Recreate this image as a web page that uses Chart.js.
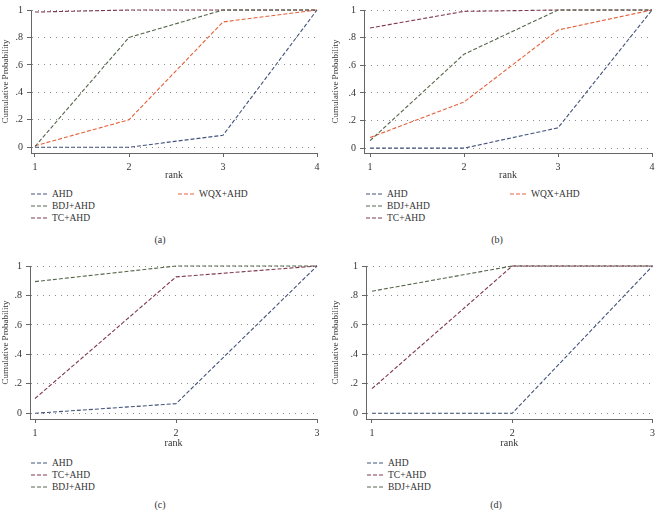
<!DOCTYPE html>
<html><head><meta charset="utf-8">
<script src="https://cdn.jsdelivr.net/npm/chart.js@4/dist/chart.umd.min.js"></script>
<style>
html,body{margin:0;padding:0;background:#fff;}
body{width:659px;height:512px;position:relative;overflow:hidden;font-family:"Liberation Serif","DejaVu Serif",serif;color:#333;}
canvas{position:absolute;}
.leg{position:absolute;font-size:9.5px;line-height:12px;white-space:nowrap;display:flex;align-items:center;}
.leg svg{margin-right:5px;}
.cap{position:absolute;font-size:10px;transform:translate(-50%,-50%);}
</style></head><body>
<canvas id="ca"></canvas><canvas id="cb"></canvas><canvas id="cc"></canvas><canvas id="cd"></canvas>
<div id="legends"></div>
<script>
// ---- data ----
const yTickValues = [0, 0.2, 0.4, 0.6, 0.8, 1];
const yTickLabels = ["0", ".2", ".4", ".6", ".8", "1"];
const ranksAB = [1, 2, 3, 4];
const ranksCD = [1, 2, 3];
const a_AHD = [0, 0, 0.087, 1];
const a_BDJ = [0.005, 0.80, 1, 1];
const a_TC  = [0.985, 1, 1, 1];
const a_WQX = [0.01, 0.20, 0.913, 1];
const b_AHD = [0, 0, 0.147, 1];
const b_BDJ = [0.054, 0.68, 1, 1];
const b_TC  = [0.87, 0.99, 1, 1];
const b_WQX = [0.077, 0.334, 0.855, 1];
const c_AHD = [0, 0.065, 1];
const c_TC  = [0.10, 0.926, 1];
const c_BDJ = [0.894, 1, 1];
const d_AHD = [0, 0, 1];
const d_TC  = [0.167, 1, 1];
const d_BDJ = [0.829, 1, 1];
const nameAHD = "AHD", nameBDJ = "BDJ+AHD", nameTC = "TC+AHD", nameWQX = "WQX+AHD";
const axisTitleX = "rank", axisTitleY = "Cumulative Probability";
const captions = ["(a)", "(b)", "(c)", "(d)"];

// ---- styles ----
const COL = {AHD:"#42527a", BDJ:"#55664a", TC:"#7e3a4c", WQX:"#e4603a"};
const FONT = "'Liberation Serif', 'DejaVu Serif', serif";

function panel(id, box, g, ranks, series) {
  const cv = document.getElementById(id);
  cv.style.left = box.left + "px"; cv.style.top = box.top + "px";
  const N = ranks[ranks.length - 1];
  const kx = (g.xN - g.x1) / (N - 1);
  const xmin = 1 - (g.x1 - g.axisX) / kx;
  const ky = (g.y0 - g.y1);
  const ymin = -(g.axisY - g.y0) / ky;
  const height = g.rankY + 6;
  cv.width = box.width; cv.height = height;
  cv.style.width = box.width + "px"; cv.style.height = height + "px";
  new Chart(cv, {
    type: "line",
    data: {
      datasets: series.map(s => ({
        label: s.name,
        data: ranks.map((r, i) => ({x: r, y: s.values[i]})),
        borderColor: s.color, borderWidth: 1.1, borderDash: [4, 2],
        pointRadius: 0, fill: false, tension: 0, clip: false
      }))
    },
    options: {
      responsive: false, animation: false, devicePixelRatio: 1,
      layout: {padding: {top: g.y1, right: box.width - g.xN, left: 0, bottom: 0}},
      plugins: {legend: {display: false}, tooltip: {enabled: false}},
      scales: {
        x: {
          type: "linear", min: xmin, max: N,
          afterBuildTicks: s => { s.ticks = ranks.map(v => ({value: v})); },
          afterFit: s => { s.height = height - g.axisY; },
          grid: {drawOnChartArea: false, drawTicks: true, tickLength: 4, color: "#666", tickColor: "#666"},
          border: {display: true, color: "#666", width: 1},
          ticks: {padding: 4, color: "#333", font: {family: FONT, size: 10}, maxRotation: 0,
                  callback: v => String(v)},
          title: {display: true, text: axisTitleX, color: "#333", padding: 0, font: {family: FONT, size: 10}}
        },
        y: {
          type: "linear", min: ymin, max: 1,
          afterBuildTicks: s => { s.ticks = yTickValues.map(v => ({value: v})); },
          afterFit: s => { s.width = g.axisX; },
          grid: {drawOnChartArea: true, drawTicks: true, tickLength: 4, color: "#8a8a8a", tickColor: "#666", lineWidth: 1, tickBorderDash: []},
          border: {display: true, color: "#666", width: 1, dash: [1, 5]},
          ticks: {padding: 4, color: "#333", font: {family: FONT, size: 10},
                  callback: v => { const i = yTickValues.indexOf(v); return i >= 0 ? yTickLabels[i] : ""; }},
          title: {display: true, text: axisTitleY, color: "#333", padding: 0, font: {family: FONT, size: 9}}
        }
      }
    }
  });
}

const A = [{name:nameAHD, values:a_AHD, color:COL.AHD},{name:nameBDJ, values:a_BDJ, color:COL.BDJ},{name:nameTC, values:a_TC, color:COL.TC},{name:nameWQX, values:a_WQX, color:COL.WQX}];
const B = [{name:nameAHD, values:b_AHD, color:COL.AHD},{name:nameBDJ, values:b_BDJ, color:COL.BDJ},{name:nameTC, values:b_TC, color:COL.TC},{name:nameWQX, values:b_WQX, color:COL.WQX}];
const C = [{name:nameAHD, values:c_AHD, color:COL.AHD},{name:nameTC, values:c_TC, color:COL.TC},{name:nameBDJ, values:c_BDJ, color:COL.BDJ}];
const D = [{name:nameAHD, values:d_AHD, color:COL.AHD},{name:nameTC, values:d_TC, color:COL.TC},{name:nameBDJ, values:d_BDJ, color:COL.BDJ}];

panel("ca", {left:0, top:0, width:330}, {axisX:31, x1:35, xN:317, y1:5, y0:147, axisY:153, rankY:175}, ranksAB, A);
panel("cb", {left:330, top:0, width:329}, {axisX:34, x1:40, xN:322, y1:5, y0:148, axisY:153, rankY:175}, ranksAB, B);
panel("cc", {left:0, top:256, width:330}, {axisX:30, x1:35, xN:317, y1:3, y0:157, axisY:163, rankY:187}, ranksCD, C);
panel("cd", {left:330, top:256, width:329}, {axisX:36, x1:42, xN:323, y1:3, y0:157, axisY:163, rankY:187}, ranksCD, D);

// ---- legends (HTML) ----
const L = document.getElementById("legends");
function leg(x, y, s) {
  const d = document.createElement("div");
  d.className = "leg"; d.style.left = x + "px"; d.style.top = (y - 6) + "px";
  d.innerHTML = '<svg width="16" height="4"><line x1="0" y1="2" x2="16" y2="2" stroke="' + s.color + '" stroke-width="1" stroke-dasharray="4 2"/></svg>';
  const t = document.createElement("span"); t.textContent = s.name; d.appendChild(t);
  L.appendChild(d);
}
function cap(x, y, t) {
  const d = document.createElement("div"); d.className = "cap";
  d.style.left = x + "px"; d.style.top = y + "px"; d.textContent = t; L.appendChild(d);
}
leg(31, 194, A[0]); leg(31, 206, A[1]); leg(31, 218, A[2]); leg(178, 194, A[3]);
leg(366, 194, B[0]); leg(366, 206, B[1]); leg(366, 218, B[2]); leg(510, 194, B[3]);
leg(31, 463, C[0]); leg(31, 475, C[1]); leg(31, 487, C[2]);
leg(367, 463, D[0]); leg(367, 475, D[1]); leg(367, 487, D[2]);
cap(160, 239, captions[0]); cap(497, 239, captions[1]); cap(160, 504, captions[2]); cap(496, 504, captions[3]);
</script>
</body></html>
